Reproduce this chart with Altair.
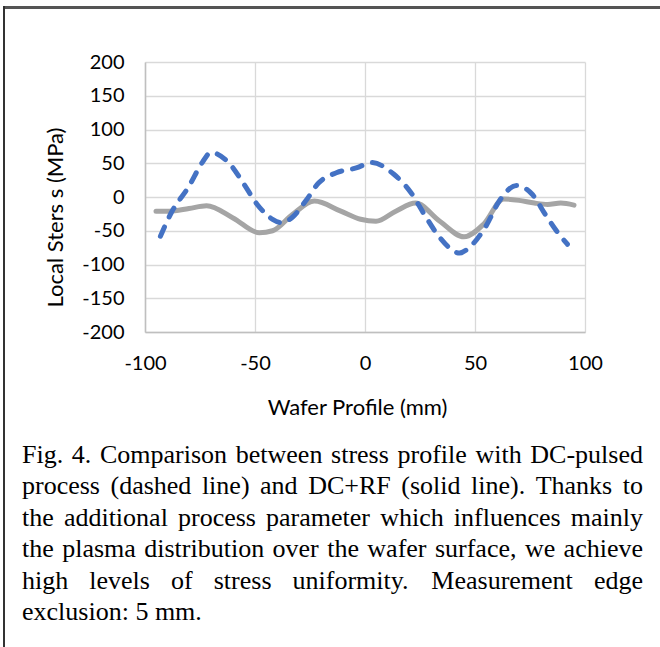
import altair as alt
import pandas as pd

# DC+RF process (solid gray line): wafer position (mm) and local stress (MPa)
rf_x = [-95, -89, -80, -72, -60, -48, -42, -33, -23, -11, -2, 5, 14, 23, 34, 45, 54, 63, 70, 77, 83, 89, 95]
rf_y = [-21, -21, -17, -13, -31, -53, -50, -26, -6, -21, -33, -36, -21, -9, -36, -59, -40, -3, -5, -9, -11, -9, -12]

# DC-pulsed process (dashed blue line)
pulsed_x = [-93, -88, -80, -74, -70, -62, -55, -49, -42, -38, -33, -27, -21, -13, -4, 3, 13, 21, 27,
            34, 43, 48, 55, 61, 69, 76, 82, 87, 92]
pulsed_y = [-58, -23, 16, 51, 66, 51, 19, -11, -33, -38, -30, -6, 21, 36, 43, 51, 34, 6, -26,
            -60, -83, -73, -43, -6, 17, 4, -26, -50, -70]

x_ticks = [-100, -50, 0, 50, 100]
y_ticks = [-200, -150, -100, -50, 0, 50, 100, 150, 200]

caption_lines = [
    "Fig. 4. Comparison between stress profile with DC-pulsed",
    "process (dashed line) and DC+RF (solid line). Thanks to",
    "the additional process parameter which influences mainly",
    "the plasma distribution over the wafer surface, we achieve",
    "high levels of stress uniformity. Measurement edge",
    "exclusion: 5 mm.",
]

# Layout of the figure (pixels)
PLOT_LEFT, PLOT_TOP, PLOT_W, PLOT_H = 145, 62, 440, 270
FIG_W, FIG_H = 660, 647
CAP_LEFT, CAP_RIGHT, CAP_FIRST, CAP_STEP, CAP_SIZE = 22, 643, 463, 31.4, 26

# Times-compatible advance widths (per 1000 em) used to justify the caption
TIMES = {
    " ": 250, "(": 333, ")": 333, "+": 564, ",": 250, "-": 333, ".": 250, ":": 278,
    "4": 500, "5": 500, "C": 667, "D": 722, "F": 556, "M": 889, "R": 667, "T": 611,
    "a": 444, "b": 500, "c": 444, "d": 500, "e": 444, "f": 333, "g": 500, "h": 500,
    "i": 278, "k": 500, "l": 278, "m": 778, "n": 500, "o": 500, "p": 500, "r": 333,
    "s": 389, "t": 278, "u": 500, "v": 500, "w": 722, "x": 500, "y": 500, "z": 444,
}


def text_width(s):
    return sum(TIMES.get(c, 500) for c in s) * CAP_SIZE / 1000.0


words = []
for i, line in enumerate(caption_lines):
    parts = line.split(" ")
    base = CAP_FIRST + i * CAP_STEP
    if i < len(caption_lines) - 1:
        gap = (CAP_RIGHT - CAP_LEFT - sum(text_width(w) for w in parts)) / (len(parts) - 1)
    else:
        gap = text_width(" ")
    pos = CAP_LEFT
    for w in parts:
        words.append({"word": w, "px": pos - PLOT_LEFT, "py": base - PLOT_TOP})
        pos += text_width(w) + gap

df = pd.concat([
    pd.DataFrame({"x": rf_x, "y": rf_y, "series": "DC+RF"}),
    pd.DataFrame({"x": pulsed_x, "y": pulsed_y, "series": "DC-pulsed"}),
])
cap_df = pd.DataFrame(words)

# plain hyphen for negative tick labels
plain_label = "datum.value + ''"

x_enc = alt.X(
    "x:Q",
    scale=alt.Scale(domain=[-100, 100], nice=False),
    axis=alt.Axis(
        values=x_ticks, labelExpr=plain_label, labelFlush=False, title="Wafer Profile (mm)",
        titleX=212, titleY=75, titleBaseline="middle", titleAlign="center",
    ),
)
y_enc = alt.Y(
    "y:Q",
    scale=alt.Scale(domain=[-200, 200], nice=False),
    axis=alt.Axis(
        values=y_ticks, labelExpr=plain_label, labelFlush=False, title="Local Sters s (MPa)",
        titleX=-90, titleY=155, titleAngle=270, titleBaseline="middle", titleAlign="center",
    ),
)

solid = (
    alt.Chart(df)
    .transform_filter(alt.datum.series == "DC+RF")
    .mark_line(color="#A5A5A5", strokeWidth=5, interpolate="monotone", strokeCap="round")
    .encode(x=x_enc, y=y_enc)
)

dashed = (
    alt.Chart(df)
    .transform_filter(alt.datum.series == "DC-pulsed")
    .mark_line(color="#4472C4", strokeWidth=5, interpolate="monotone",
               strokeDash=[10, 11], strokeCap="round")
    .encode(x=x_enc, y=y_enc)
)

caption = (
    alt.Chart(cap_df)
    .mark_text(font="Liberation Serif", fontSize=CAP_SIZE, align="left",
               baseline="alphabetic", color="#000000")
    .encode(
        x=alt.X("px:Q", scale=None),
        y=alt.Y("py:Q", scale=None),
        text="word:N",
    )
)

# Frame around the figure (top and left edges)
frame_top = alt.Chart(df).mark_rule(color="#555555", strokeWidth=2.2).encode(
    x=alt.value(4 - PLOT_LEFT), x2=alt.value(FIG_W - PLOT_LEFT), y=alt.value(7.5 - PLOT_TOP)
)
frame_left = alt.Chart(df).mark_rule(color="#333333", strokeWidth=1.5).encode(
    x=alt.value(4 - PLOT_LEFT), y=alt.value(6.5 - PLOT_TOP), y2=alt.value(FIG_H - PLOT_TOP)
)

chart = (
    alt.layer(solid, dashed, caption, frame_top, frame_left)
    .properties(
        width=PLOT_W,
        height=PLOT_H,
        padding={"left": PLOT_LEFT, "top": PLOT_TOP,
                 "right": FIG_W - PLOT_LEFT - PLOT_W, "bottom": FIG_H - PLOT_TOP - PLOT_H},
        autosize=alt.AutoSizeParams(type="none"),
        background="white",
    )
    .configure_view(strokeWidth=0)
    .configure_axis(
        labelFont="Lato", labelFontSize=20, labelColor="#000000",
        titleFont="Lato", titleFontSize=22, titleFontWeight="normal", titleColor="#000000",
        gridColor="#D9D9D9", gridWidth=1.3,
        domainColor="#BFBFBF", domainWidth=1.5,
        ticks=False, labelPadding=21,
    )
)

chart.save("out.html", embed_options={"renderer": "svg", "actions": False})
